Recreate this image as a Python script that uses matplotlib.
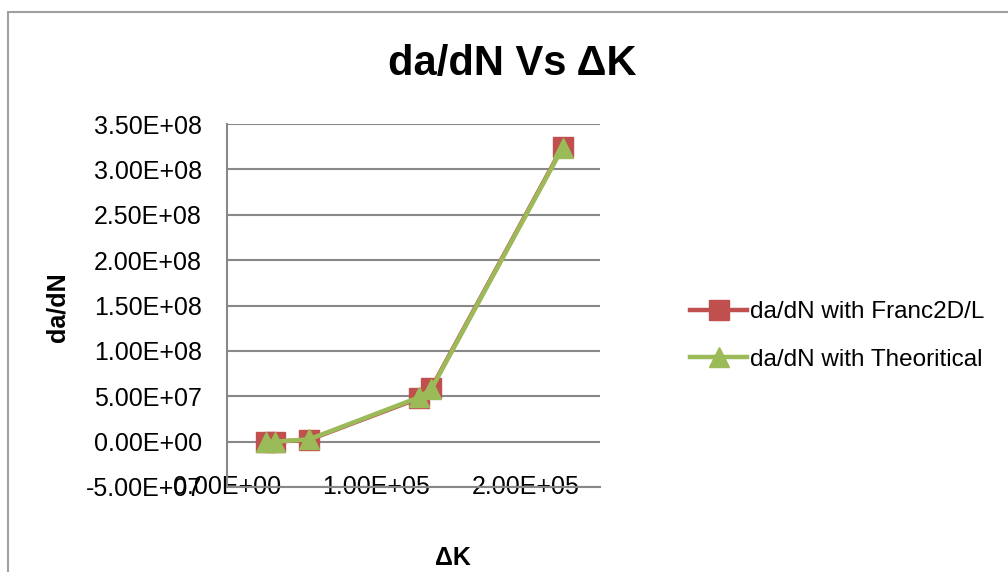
import matplotlib
matplotlib.use("Agg")
import matplotlib.pyplot as plt
from matplotlib.patches import Rectangle
from matplotlib.ticker import FuncFormatter

# Data
delta_k = [2.6e4, 3.2e4, 5.5e4, 1.29e5, 1.37e5, 2.25e5]
dadn_franc = [0.0, 0.0, 2.0e6, 4.8e7, 5.9e7, 3.25e8]
dadn_theory = [0.0, 0.0, 2.5e6, 4.9e7, 5.8e7, 3.24e8]
series_labels = ["da/dN with Franc2D/L", "da/dN with Theoritical"]
title = "da/dN Vs \u0394K"
xlabel = "\u0394K"
ylabel = "da/dN"
xticks = [0, 1e5, 2e5]
yticks = [-5e7, 0, 5e7, 1e8, 1.5e8, 2e8, 2.5e8, 3e8, 3.5e8]

plt.rcParams['font.family'] = ["Liberation Sans", "DejaVu Sans"]

W, H = 1008, 572
fig = plt.figure(figsize=(W / 100, H / 100), dpi=100)

# chart outer border
fig.patches.append(Rectangle((8 / W, -0.1), 2.0, (1 - 12 / H) + 0.1,
                             transform=fig.transFigure, fill=False,
                             edgecolor="#a0a0a0", linewidth=1.5))

ax = fig.add_axes([227 / W, 1 - 487 / H, (600 - 227) / W, (487 - 124) / H])
ax.plot(delta_k, dadn_franc, color="#C0504D", linewidth=3.2, marker="s",
        markersize=14, label=series_labels[0], zorder=3)
ax.plot(delta_k, dadn_theory, color="#9BBB59", linewidth=3.2, marker="^",
        markersize=15, label=series_labels[1], zorder=4)

ax.set_xlim(0, 2.5e5)
ax.set_ylim(-5e7, 3.5e8)
ax.set_xticks(xticks)
ax.set_yticks(yticks)

fmt = FuncFormatter(lambda v, p: "%.2E" % v)
ax.xaxis.set_major_formatter(fmt)
ax.yaxis.set_major_formatter(fmt)

ax.grid(axis="y", color="#888888", linewidth=1.5)
ax.set_axisbelow(True)
for s in ["top", "right"]:
    ax.spines[s].set_visible(False)
ax.spines["left"].set_color("#888888")
ax.spines["left"].set_linewidth(1.5)
ax.spines["bottom"].set_color("#888888")
ax.spines["bottom"].set_linewidth(1.5)

ax.tick_params(axis="y", length=0, pad=18, labelsize=18)
ax.tick_params(axis="x", length=0, pad=0, labelsize=18)
for lab in ax.get_xticklabels():
    lab.set_verticalalignment("center")

fig.text(512 / W, 1 - 64 / H, title, ha="center", va="center",
         fontsize=30, fontweight="bold")
fig.text(57 / W, 1 - 307 / H, ylabel, ha="center", va="center",
         rotation=90, fontsize=18, fontweight="bold")
fig.text(453 / W, 1 - 558 / H, xlabel, ha="center", va="center",
         fontsize=18, fontweight="bold")

leg = fig.legend(loc="center left", bbox_to_anchor=(690 / W, 1 - 336 / H),
                 frameon=False, fontsize=17.5, handlelength=2.35,
                 handletextpad=0.1, labelspacing=1.05,
                 borderpad=0, borderaxespad=0)

fig.savefig("out.png", dpi=100)
